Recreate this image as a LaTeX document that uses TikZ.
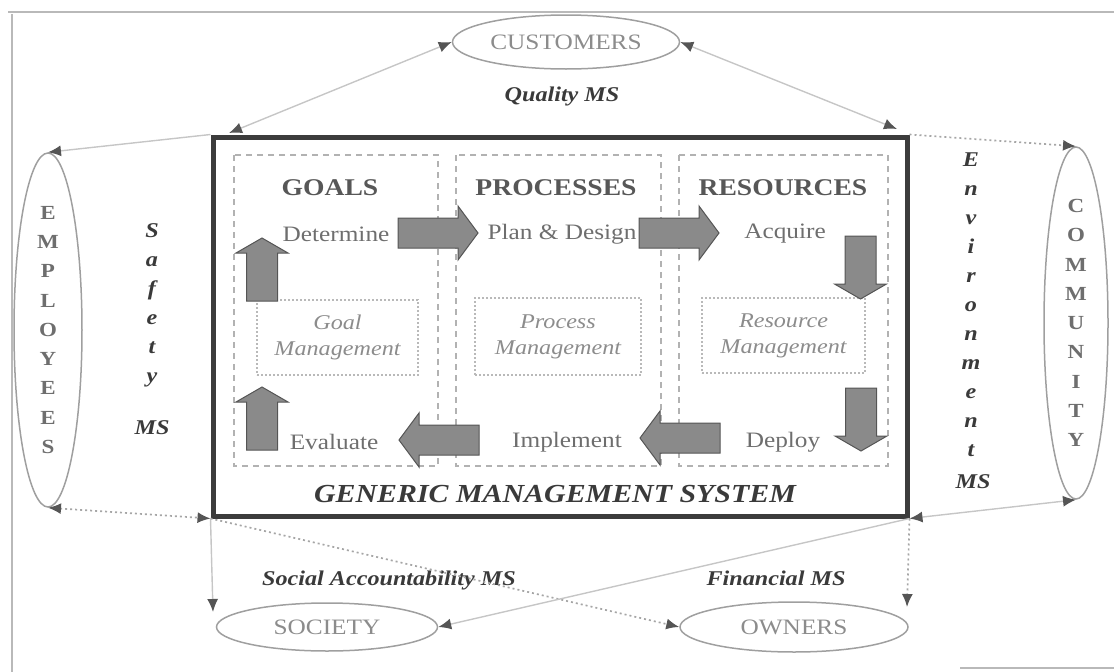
\documentclass[tikz,border=0pt]{standalone}
\usepackage{fontspec}
\setmainfont{Liberation Serif}[FakeStretch=1.15]
\usetikzlibrary{shapes.geometric,arrows.meta}
\definecolor{boxdark}{HTML}{3C3C3C}
\definecolor{txtdark}{HTML}{3A3A3A}
\definecolor{txtmid}{HTML}{6E6E6E}
\definecolor{txtlight}{HTML}{8C8C8C}
\definecolor{arrowfill}{HTML}{8A8A8A}
\definecolor{arrowedge}{HTML}{555555}
\tikzset{
  ell/.style={draw=gray!75, line width=1.5pt, ellipse, inner sep=0pt, text=txtlight},
  vell/.style={ell, align=center, text=txtmid, font=\fontsize{20}{29.25}\selectfont\bfseries},
  header/.style={font=\fontsize{24}{24}\selectfont\bfseries, text=txtdark!85},
  rowtxt/.style={font=\fontsize{22}{22}\selectfont, text=txtmid},
  mgmt/.style={draw=gray!55, line width=1.4pt, dash pattern=on 2pt off 2pt, align=center,
    font=\fontsize{21}{26}\selectfont\itshape, text=txtlight, inner sep=0pt},
  mslabel/.style={font=\fontsize{21}{21}\selectfont\bfseries\itshape, text=txtdark},
  colbox/.style={draw=gray!60, line width=1.6pt, dash pattern=on 6pt off 5pt},
  lightline/.style={draw=gray!45, line width=1.4pt},
  dotline/.style={draw=gray!70, line width=1.7pt, dash pattern=on 2pt off 3pt},
  tip/.style={-{Latex[length=13pt,width=11pt]}, arrows={[color=arrowedge]}},
  tips/.style={{Latex[length=13pt,width=11pt]}-{Latex[length=13pt,width=11pt]}, arrows={[color=arrowedge]}},
  rarrow/.pic={\fill[arrowfill, draw=arrowedge, line width=1pt]
     (0,-15) -- (60,-15) -- (60,-27) -- (80,0) -- (60,27) -- (60,15) -- (0,15) -- cycle;},
  uarrow/.pic={\fill[arrowfill, draw=arrowedge, line width=1pt]
     (-15.5,0) -- (-15.5,-48) -- (-26,-48) -- (0,-63) -- (26,-48) -- (15.5,-48) -- (15.5,0) -- cycle;}
}
\begin{document}
\begin{tikzpicture}[x=1pt,y=-1pt]
\useasboundingbox (0,0) rectangle (1114,672);
% scan frame
\draw[gray!55, line width=1.5pt] (8,12) -- (1114,12);
\draw[gray!55, line width=1.5pt] (12,14) -- (12,672);
\draw[gray!55, line width=1.5pt] (960,668) -- (1114,668);

% main system box
\node[draw=boxdark, line width=5pt, minimum width=694, minimum height=379, inner sep=0pt] (gms) at (560,326.5) {};

% columns
\draw[colbox] (234,155) rectangle (438,466);
\draw[colbox] (456,155) rectangle (661,466);
\draw[colbox] (679,155) rectangle (888,466);

\node[header] (goals) at (330,188) {GOALS};
\node[header] (procs) at (556,188) {PROCESSES};
\node[header] (res) at (783,188) {RESOURCES};

\node[rowtxt] (det) at (336,234) {Determine};
\node[rowtxt] (plan) at (562,234) {Plan \& Design};
\node[rowtxt] (acq) at (785,234) {Acquire};
\node[rowtxt] (eval) at (334,442) {Evaluate};
\node[rowtxt] (impl) at (567,442) {Implement};
\node[rowtxt] (depl) at (783,442) {Deploy};

\node[mgmt, minimum width=161, minimum height=75] (gm) at (337.5,337.5) {Goal\\Management};
\node[mgmt, minimum width=166, minimum height=77] (pm) at (558,336.5) {Process\\Management};
\node[mgmt, minimum width=163, minimum height=75] (rm) at (783.5,335.5) {Resource\\Management};

% fat arrows
\pic at (398,233) {rarrow};
\pic at (639,233) {rarrow};
\pic[rotate=180] at (479,440) {rarrow};
\pic[rotate=180] at (720,438) {rarrow};
\pic at (262,301) {uarrow};
\pic at (262,450) {uarrow};
\pic[rotate=180] at (860.5,236) {uarrow};
\pic[rotate=180] at (861,388) {uarrow};

\node[font=\fontsize{26}{26}\selectfont\bfseries\itshape, text=txtdark] (gmstxt) at (555,494) {GENERIC MANAGEMENT SYSTEM};

% stakeholders
\node[ell, minimum width=227, minimum height=54, font=\fontsize{22}{22}\selectfont] (cust) at (566,42) {CUSTOMERS};
\node[vell, minimum width=68, minimum height=354] (emp) at (48,330) {E\\M\\P\\L\\O\\Y\\E\\E\\S};
\node[vell, minimum width=64, minimum height=352] (com) at (1076,323) {C\\O\\M\\M\\U\\N\\I\\T\\Y};
\node[ell, minimum width=221, minimum height=48, font=\fontsize{22}{22}\selectfont] (soc) at (327,627) {SOCIETY};
\node[ell, minimum width=228, minimum height=50, font=\fontsize{22}{22}\selectfont] (own) at (794,627) {OWNERS};

% MS labels
\node[mslabel] (qms) at (562,96) {Quality MS};
\node[mslabel, align=center, font=\fontsize{21}{29}\selectfont\bfseries\itshape] (saf) at (152,305) {S\\a\\f\\e\\t\\y};
\node[mslabel] (safms) at (152,428) {MS};
\node[mslabel, align=center, font=\fontsize{21}{29}\selectfont\bfseries\itshape] (env) at (971,305) {E\\n\\v\\i\\r\\o\\n\\m\\e\\n\\t};
\node[mslabel] (envms) at (973,482) {MS};
\node[mslabel] (sams) at (389,580) {Social Accountability MS};
\node[mslabel] (fims) at (776,578) {Financial MS};

% connector end points
\coordinate (cTL) at (229,133);
\coordinate (cTR) at (897,129);
\coordinate (socTip) at (213,612);
\coordinate (ownTip) at (907,607);

% connectors
\draw[lightline, tips] (cust.west) -- (cTL);
\draw[lightline, tips] (cust.east) -- (cTR);
\draw[lightline, tip] (gms.north west) -- (emp.north);
\draw[dotline, tip] (gms.north east) -- (com.north);
\draw[dotline, tips] (emp.south) -- (gms.south west);
\draw[lightline, tips] (com.south) -- (gms.south east);
\draw[lightline, tip] (gms.south west) -- (socTip);
\draw[dotline, tip] (gms.south west) -- (own.west);
\draw[dotline, tip] (gms.south east) -- (ownTip);
\draw[lightline, tip] (gms.south east) -- (soc.east);
\end{tikzpicture}
\end{document}
